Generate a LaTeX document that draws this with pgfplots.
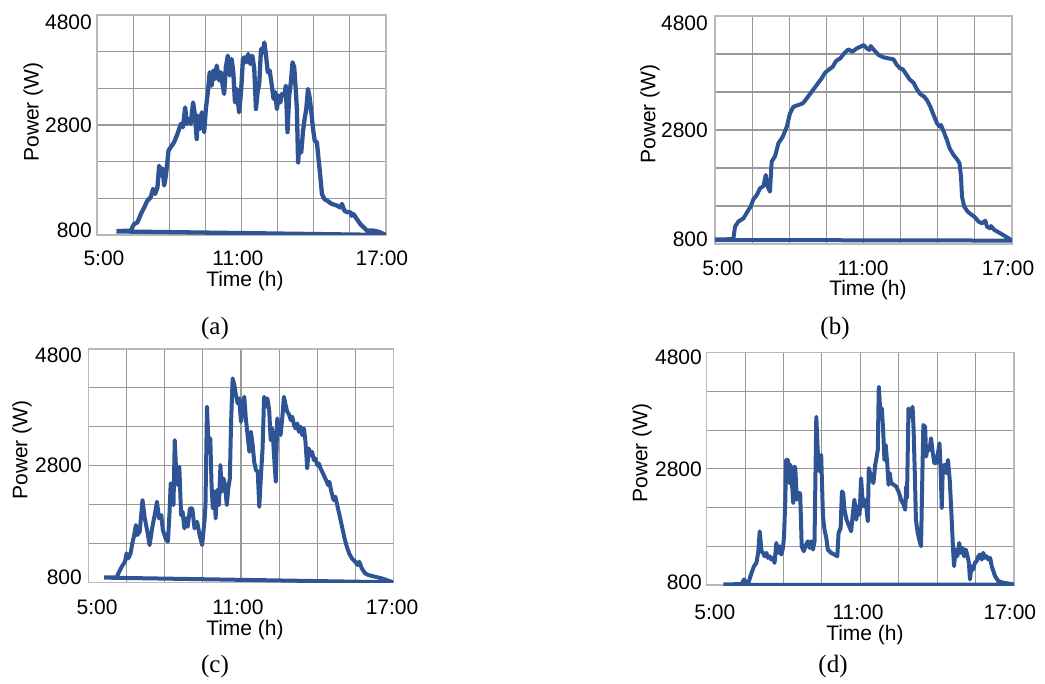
\documentclass[border=0pt]{standalone}
\usepackage{fontspec}
\setmainfont{Liberation Sans}
\newfontfamily\serifcap{Liberation Serif}
\usepackage{pgfplots}
\pgfplotsset{compat=1.18}
\definecolor{pvblue}{RGB}{47,84,150}

% Daily PV power profiles, (t in hours, P in W)
\pgfplotstableread{
t P
5.81 870
6.40 880
6.54 1000
6.68 1030
6.82 1180
6.96 1300
7.09 1425
7.23 1485
7.33 1640
7.41 1545
7.51 1665
7.58 2060
7.66 1880
7.72 2010
7.79 1700
7.86 1880
7.97 2335
8.06 2395
8.20 2485
8.34 2635
8.48 2820
8.57 2760
8.66 3120
8.73 2820
8.80 2910
8.89 2820
8.99 3210
9.07 2970
9.14 2545
9.19 2970
9.28 2730
9.35 3030
9.45 2670
9.52 3090
9.61 3425
9.68 3760
9.76 3515
9.83 3790
9.90 3640
9.97 3880
10.07 3610
10.14 3760
10.21 3545
10.28 3365
10.35 3850
10.43 4060
10.51 3700
10.59 4000
10.66 3760
10.73 3210
10.80 3455
10.90 3030
10.98 3395
11.06 4000
11.12 4030
11.20 3940
11.28 4090
11.37 3910
11.45 4060
11.53 3820
11.60 3090
11.67 3395
11.74 3575
11.81 4180
11.88 4120
11.95 4300
12.02 4060
12.09 3760
12.17 3790
12.26 3515
12.33 3275
12.40 3395
12.47 3090
12.54 3335
12.61 3210
12.68 3365
12.78 3335
12.84 3515
12.91 2670
12.98 3335
13.05 3575
13.12 3940
13.19 3850
13.26 3395
13.30 3090
13.35 2120
13.41 2485
13.48 2300
13.55 2670
13.62 2910
13.69 3090
13.76 3455
13.83 3300
13.90 3030
13.97 2730
14.04 2515
14.13 2485
14.20 2180
14.27 1880
14.34 1545
14.44 1455
14.55 1425
14.75 1365
14.96 1335
15.10 1300
15.17 1365
15.27 1245
15.38 1215
15.52 1215
15.58 1150
15.65 1180
15.79 1090
15.93 1000
16.07 940
16.21 880
16.48 880
16.69 860
17.00 800
5.81 865
}\dayA

\pgfplotstableread{
t P
5.00 880
5.74 885
5.81 1104
5.94 1192
6.15 1250
6.35 1396
6.44 1455
6.55 1584
6.69 1660
6.82 1777
6.96 1818
7.05 2010
7.13 1806
7.22 1718
7.29 2244
7.43 2344
7.56 2566
7.74 2683
7.90 2858
8.03 3092
8.17 3209
8.37 3239
8.55 3268
8.71 3356
8.91 3473
9.11 3590
9.31 3707
9.45 3806
9.58 3853
9.76 3911
9.89 4011
10.06 4057
10.22 4145
10.39 4215
10.55 4174
10.73 4233
10.89 4262
11.00 4291
11.13 4233
11.24 4204
11.29 4274
11.40 4215
11.61 4116
11.81 4075
12.01 4057
12.21 4040
12.35 3940
12.48 3882
12.59 3864
12.72 3782
12.86 3689
13.02 3630
13.16 3513
13.29 3432
13.45 3385
13.56 3326
13.70 3209
13.83 3063
13.97 2917
14.08 2858
14.13 2888
14.24 2771
14.37 2625
14.48 2478
14.64 2361
14.80 2274
14.88 2215
14.94 1981
14.98 1630
15.07 1455
15.21 1367
15.38 1309
15.48 1280
15.65 1192
15.79 1163
15.92 1209
15.99 1104
16.12 1075
16.15 1116
16.29 1046
16.53 987
16.80 917
17.00 860
5.00 870
}\dayB

\pgfplotstableread{
t P
5.61 884
6.10 884
6.17 953
6.30 1067
6.43 1153
6.49 1296
6.56 1210
6.65 1296
6.73 1496
6.78 1581
6.86 1781
6.91 1610
7.01 1667
7.12 2210
7.21 1896
7.30 1696
7.40 1438
7.51 1753
7.60 1953
7.69 2181
7.77 1896
7.86 1953
7.92 1696
8.03 1553
8.12 1496
8.18 1953
8.23 2496
8.29 2353
8.34 2124
8.39 3238
8.44 2753
8.51 2467
8.57 2781
8.64 1953
8.70 2010
8.77 1724
8.83 1896
8.90 1753
8.99 2067
9.08 2067
9.17 1724
9.27 1838
9.37 1610
9.47 1438
9.57 1896
9.60 2124
9.66 3810
9.72 3153
9.79 3267
9.84 2467
9.89 2067
9.96 2353
10.00 1896
10.06 2381
10.13 2124
10.19 2810
10.24 2353
10.31 2581
10.37 2467
10.44 2124
10.50 2410
10.56 2581
10.61 3552
10.67 4295
10.74 4181
10.80 4010
10.87 3867
10.93 3953
11.00 3552
11.06 3781
11.13 3981
11.19 3610
11.26 3324
11.33 3038
11.39 3381
11.46 3153
11.52 2867
11.59 2724
11.66 2695
11.72 2095
11.78 2581
11.85 3095
11.91 3981
11.98 3810
12.04 3953
12.11 3753
12.17 3238
12.24 3438
12.30 2981
12.37 2524
12.43 3610
12.50 3438
12.56 3324
12.63 3638
12.69 3981
12.76 3838
12.82 3724
12.89 3680
12.96 3581
13.02 3638
13.09 3495
13.15 3438
13.22 3524
13.28 3381
13.35 3467
13.41 3324
13.48 3438
13.54 3210
13.61 2753
13.67 3095
13.74 2981
13.80 3038
13.87 2895
13.93 2924
14.00 2810
14.07 2838
14.13 2753
14.20 2695
14.26 2638
14.35 2553
14.43 2467
14.48 2524
14.56 2353
14.65 2210
14.72 2267
14.82 2067
14.91 1896
14.98 1753
15.08 1553
15.17 1410
15.26 1296
15.37 1210
15.50 1153
15.59 1096
15.66 1153
15.76 1038
15.89 953
16.02 924
16.28 896
16.54 867
17.00 800
5.61 880
}\dayC

\pgfplotstableread{
t P
5.65 810
6.36 815
6.46 895
6.55 838
6.64 850
6.75 1009
6.85 1124
6.94 1181
7.01 1353
7.07 1724
7.14 1381
7.20 1353
7.26 1295
7.33 1353
7.39 1267
7.46 1295
7.52 1238
7.59 1267
7.65 1181
7.72 1524
7.78 1353
7.85 1467
7.91 1324
7.98 1438
8.02 1638
8.07 2268
8.10 2954
8.17 2954
8.23 2554
8.27 2868
8.32 2611
8.38 2211
8.43 2839
8.46 2811
8.52 2268
8.58 2382
8.65 2382
8.71 1467
8.79 1381
8.88 1496
8.95 1553
9.02 1438
9.08 1553
9.15 1410
9.21 1553
9.28 3697
9.34 3068
9.41 2754
9.47 3040
9.54 1982
9.60 1753
9.67 1610
9.73 1410
9.86 1353
9.99 1324
10.10 1295
10.15 1696
10.23 1781
10.28 2411
10.33 2382
10.38 2096
10.46 1924
10.54 1839
10.64 1724
10.71 2039
10.77 2268
10.84 1924
10.90 2153
10.97 2010
11.03 2639
11.10 2153
11.16 2268
11.23 2153
11.29 1896
11.33 2811
11.38 2725
11.45 2668
11.51 2554
11.58 2868
11.64 3011
11.68 3126
11.72 4213
11.79 3726
11.84 3840
11.89 3468
11.94 2954
11.99 3211
12.05 2897
12.10 2525
12.15 2725
12.20 2554
12.31 2525
12.40 2496
12.49 2411
12.59 2268
12.69 2182
12.75 2096
12.79 2496
12.82 2296
12.88 3840
12.95 3697
13.04 3869
13.08 3468
13.13 2668
13.17 1924
13.24 1696
13.30 1581
13.37 1467
13.41 2439
13.46 3554
13.53 3525
13.57 3011
13.63 3183
13.70 3126
13.76 3326
13.83 3068
13.89 2897
13.96 2897
14.03 3068
14.09 3240
14.13 2840
14.18 2125
14.22 2840
14.29 2868
14.36 2725
14.42 2954
14.49 2611
14.55 2096
14.62 1410
14.66 1124
14.72 1410
14.79 1295
14.86 1524
14.92 1353
14.99 1438
15.05 1295
15.12 1410
15.17 1324
15.24 1181
15.28 895
15.34 1124
15.41 1067
15.47 1181
15.54 1210
15.61 1295
15.67 1324
15.74 1238
15.80 1353
15.87 1267
15.93 1295
16.00 1238
16.07 1267
16.13 1124
16.26 952
16.39 866
16.59 838
17.00 809
5.65 800
}\dayD

\pgfplotsset{
  pvpanel/.style={
    scale only axis, anchor=south west,
    xmin=5, xmax=17, ymin=800, ymax=4800,
    xtick={5,6.5,8,9.5,11,12.5,14,15.5,17},
    ytick={800,1466.667,2133.333,2800,3466.667,4133.333,4800},
    xticklabels={}, yticklabels={},
    xmajorgrids, ymajorgrids,
    major grid style={draw=gray!80, line width=1.1pt},
    major tick length=0pt,
    axis line style={draw=gray!55, line width=1.1pt},
    tick label style={font=\fontsize{21}{24}\selectfont, inner sep=0pt},
    label style={font=\fontsize{21}{24}\selectfont, anchor=center, inner sep=0pt},
    xlabel={Time (h)}, ylabel={Power (W)},
    extra x tick style={grid=none},
    extra y tick style={grid=none},
    extra x tick labels={5:00,11:00,17:00},
    extra y tick labels={4800,2800,800},
    yticklabel style={anchor=east},
    xticklabel style={anchor=center},
  },
  pvline/.style={pvblue, line width=4pt, line join=round, no markers},
}
\tikzset{capt/.style={font=\serifcap\fontsize{25}{28}\selectfont}}

\begin{document}
\begin{tikzpicture}
\path[use as bounding box] (0,0) rectangle (1045pt,-684pt);

% (a)
\begin{axis}[pvpanel, at={(97pt,-235pt)}, width=289pt, height=220pt,
  extra x ticks={5.29,10.85,16.83}, extra y ticks={4673,2800,891},
  xticklabel style={yshift=-23pt}, yticklabel style={xshift=-5pt},
  xlabel style={at={(axis description cs:0.512,-0.209)}},
  ylabel style={at={(axis description cs:-0.221,0.559)}}]
\addplot[pvline, line width=4.3pt] table[x=t,y=P] {\dayA};
\end{axis}
\node[capt] at (215pt,-328pt) {(a)};

% (b)
\begin{axis}[pvpanel, at={(715pt,-244pt)}, width=297pt, height=228pt,
  extra x ticks={5.32,10.98,16.84}, extra y ticks={4677,2800,888},
  xticklabel style={yshift=-24pt}, yticklabel style={xshift=-7pt},
  xlabel style={at={(axis description cs:0.515,-0.202)}},
  ylabel style={at={(axis description cs:-0.219,0.570)}}]
\addplot[pvline] table[x=t,y=P] {\dayB};
\end{axis}
\node[capt] at (835pt,-328pt) {(b)};

% (c)
\begin{axis}[pvpanel, at={(88.7pt,-582.3pt)}, width=304.6pt, height=233.3pt,
  extra x ticks={5.33,10.88,16.95}, extra y ticks={4697,2800,891},
  xticklabel style={yshift=-25pt}, yticklabel style={xshift=-6.7pt},
  xlabel style={at={(axis description cs:0.513,-0.206)}},
  ylabel style={at={(axis description cs:-0.219,0.567)}}]
\addplot[pvline] table[x=t,y=P] {\dayC};
\end{axis}
\node[capt] at (215pt,-666pt) {(c)};

% (d)
\begin{axis}[pvpanel, at={(706.7pt,-585pt)}, width=307.3pt, height=232.3pt,
  extra x ticks={5.32,10.91,16.84}, extra y ticks={4726,2800,852},
  xticklabel style={yshift=-27pt}, yticklabel style={xshift=-4.7pt},
  xlabel style={at={(axis description cs:0.515,-0.215)}},
  ylabel style={at={(axis description cs:-0.211,0.568)}}]
\addplot[pvline] table[x=t,y=P] {\dayD};
\end{axis}
\node[capt] at (833pt,-666pt) {(d)};
\end{tikzpicture}
\end{document}
